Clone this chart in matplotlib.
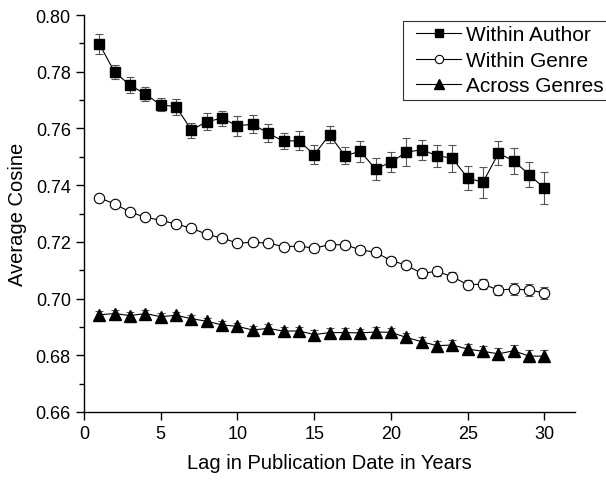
import numpy as np
import matplotlib
matplotlib.use("Agg")
import matplotlib.pyplot as plt
from matplotlib.lines import Line2D
from matplotlib.legend_handler import HandlerLine2D

plt.rcParams["font.family"] = ["Liberation Sans", "DejaVu Sans"]

lag = np.arange(1, 31)

within_author = [0.7898, 0.7798, 0.7753, 0.7721, 0.7683, 0.7677, 0.7594, 0.7624,
                 0.7636, 0.7609, 0.7615, 0.7583, 0.7555, 0.7557, 0.7507, 0.7578,
                 0.7504, 0.7519, 0.7457, 0.7481, 0.7516, 0.7525, 0.7504, 0.7495,
                 0.7425, 0.7410, 0.7512, 0.7486, 0.7437, 0.7389]
within_author_err = [0.0034, 0.0024, 0.0028, 0.0025, 0.0023, 0.0028, 0.0026, 0.0029,
                     0.0026, 0.0035, 0.0031, 0.0031, 0.0028, 0.0034, 0.0034, 0.0031,
                     0.0029, 0.0036, 0.0038, 0.0035, 0.0050, 0.0035, 0.0039, 0.0048,
                     0.0041, 0.0055, 0.0042, 0.0045, 0.0045, 0.0056]

within_genre = [0.7355, 0.7334, 0.7305, 0.7287, 0.7276, 0.7263, 0.7248, 0.7227,
                0.7213, 0.7196, 0.7198, 0.7196, 0.7183, 0.7185, 0.7178, 0.7190,
                0.7190, 0.7172, 0.7163, 0.7134, 0.7118, 0.7089, 0.7096, 0.7077,
                0.7049, 0.7051, 0.7030, 0.7034, 0.7030, 0.7020]
within_genre_err = [0.0008, 0.0008, 0.0008, 0.0008, 0.0008, 0.0008, 0.0009, 0.0009,
                    0.0009, 0.0009, 0.0010, 0.0010, 0.0010, 0.0011, 0.0011, 0.0011,
                    0.0012, 0.0012, 0.0013, 0.0013, 0.0014, 0.0015, 0.0015, 0.0016,
                    0.0017, 0.0018, 0.0019, 0.0020, 0.0021, 0.0022]

across_genres = [0.6943, 0.6947, 0.6940, 0.6947, 0.6936, 0.6941, 0.6929, 0.6920,
                 0.6907, 0.6902, 0.6889, 0.6895, 0.6885, 0.6886, 0.6873, 0.6880,
                 0.6880, 0.6879, 0.6882, 0.6881, 0.6863, 0.6848, 0.6834, 0.6836,
                 0.6822, 0.6814, 0.6805, 0.6816, 0.6797, 0.6797]
across_genres_err = [0.0012, 0.0012, 0.0012, 0.0012, 0.0012, 0.0012, 0.0013, 0.0013,
                     0.0013, 0.0013, 0.0014, 0.0014, 0.0014, 0.0014, 0.0015, 0.0015,
                     0.0015, 0.0015, 0.0016, 0.0016, 0.0017, 0.0017, 0.0018, 0.0018,
                     0.0019, 0.0019, 0.0020, 0.0020, 0.0021, 0.0022]

labels = ["Within Author", "Within Genre", "Across Genres"]

fig = plt.figure(figsize=(6.06, 4.81), dpi=100)
ax = fig.add_axes([0.1386, 0.1414, 0.8104, 0.8253])

err_kw = dict(ecolor="#555555", elinewidth=0.8, capsize=3, capthick=0.8)
ax.errorbar(lag, within_author, yerr=within_author_err, fmt="-s", color="black",
            lw=0.8, ms=7, mfc="black", mec="black", **err_kw)
ax.errorbar(lag, within_genre, yerr=within_genre_err, fmt="-o", color="black",
            lw=0.8, ms=7.5, mfc="white", mec="black", mew=0.8, **err_kw)
ax.errorbar(lag, across_genres, yerr=across_genres_err, fmt="-^", color="black",
            lw=0.8, ms=8.5, mfc="black", mec="black", **err_kw)

ax.set_xlim(0, 32)
ax.set_ylim(0.66, 0.80)
ax.set_xticks(np.arange(0, 31, 5))
ax.set_yticks(np.arange(0.66, 0.801, 0.02))
ax.set_yticks(np.arange(0.67, 0.80, 0.02), minor=True)
ax.yaxis.set_major_formatter(matplotlib.ticker.FormatStrFormatter("%.2f"))
ax.tick_params(axis="both", which="major", direction="out", length=6, width=1,
               labelsize=13)
ax.tick_params(axis="y", which="minor", direction="out", length=3.5, width=1)
for s in ("top", "right"):
    ax.spines[s].set_visible(False)
for s in ("left", "bottom"):
    ax.spines[s].set_linewidth(1)

ax.set_xlabel("Lag in Publication Date in Years", fontsize=14.5, labelpad=8)
ax.set_ylabel("Average Cosine", fontsize=14.5, labelpad=6)

# legend: line + marker only, no error bars
handles = [
    Line2D([], [], color="black", lw=0.8, marker="s", ms=6, mfc="black"),
    Line2D([], [], color="black", lw=0.8, marker="o", ms=6, mfc="white", mew=0.8),
    Line2D([], [], color="black", lw=0.8, marker="^", ms=7, mfc="black"),
]
hmap = {h: HandlerLine2D(xpad=0.43) for h in handles}
leg = fig.legend(handles, labels, loc="upper left", handler_map=hmap,
                 bbox_to_anchor=(403 / 606, 1 - 22 / 481), fontsize=15,
                 frameon=True, fancybox=False, edgecolor="black",
                 handlelength=2.6, handletextpad=0.24, borderpad=0.2,
                 labelspacing=0.32, borderaxespad=0)
leg.get_frame().set_linewidth(0.8)

fig.savefig("out.png", dpi=100)
